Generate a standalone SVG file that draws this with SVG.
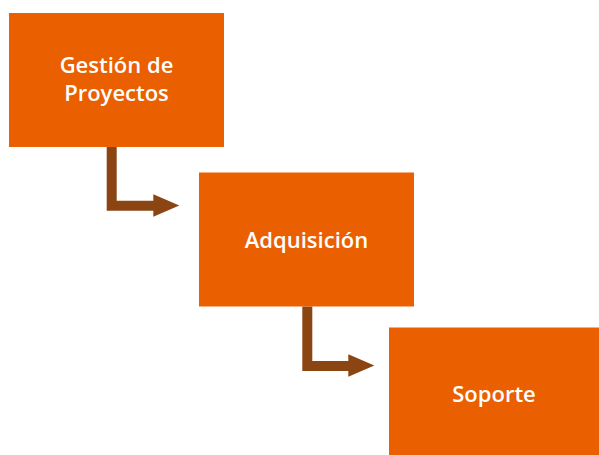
<svg xmlns="http://www.w3.org/2000/svg" width="599" height="455" viewBox="0 0 599 455">
<style>
.box{fill:#EA5F00;}
.lbl{fill:#ffffff;font-family:"Open Sans","Liberation Sans",sans-serif;font-weight:600;font-size:22px;text-anchor:middle;}
.conn{fill:#8B4513;}
</style>
<rect width="599" height="455" fill="#ffffff"/>
<g id="connectors">
<path class="conn" d="M106.7,147 H116.7 V200.7 H153.3 V194.3 L179.3,205.5 L153.3,216.7 V210.7 H106.7 Z"/>
<path class="conn" d="M302.3,306.5 H312.3 V361 H348.3 V354.3 L374.3,365.5 L348.3,376.7 V371 H302.3 Z"/>
</g>
<g id="node-gestion">
<rect class="box" x="9" y="13" width="215" height="134"/>
<text class="lbl" x="116.5" y="73">Gestión de</text>
<text class="lbl" x="116.5" y="101">Proyectos</text>
</g>
<g id="node-adquisicion">
<rect class="box" x="199" y="172.5" width="215" height="134"/>
<text class="lbl" x="306.5" y="247.5">Adquisición</text>
</g>
<g id="node-soporte">
<rect class="box" x="389" y="327.5" width="210" height="127.5"/>
<text class="lbl" x="494" y="402">Soporte</text>
</g>
</svg>
